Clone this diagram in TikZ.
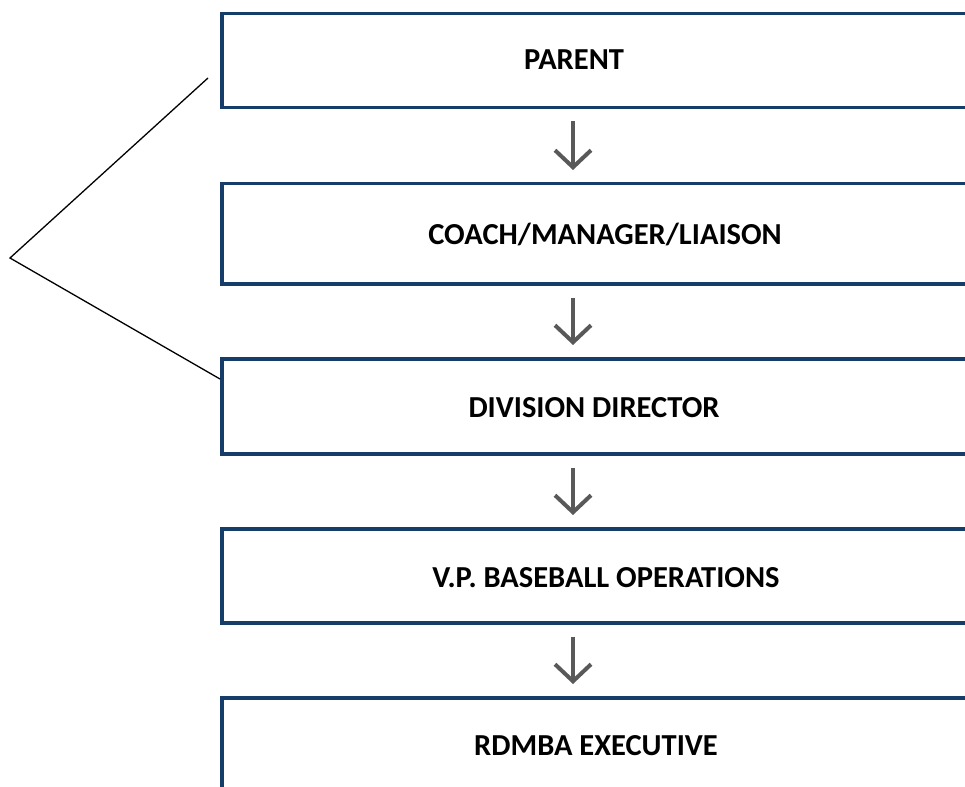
\documentclass[tikz,border=0pt]{standalone}
\usepackage{fontspec}
\setmainfont{Carlito}
\usetikzlibrary{arrows.meta}
\definecolor{boxblue}{RGB}{22,60,105}
\definecolor{arrgray}{RGB}{89,89,89}
\begin{document}
\begin{tikzpicture}[x=1pt,y=-1pt,
  box/.style={draw=boxblue,line width=3.5pt,rectangle,inner sep=0pt,anchor=north west},
  lbl/.style={font=\fontsize{30.5}{36}\selectfont\bfseries,text=black,inner sep=0pt},
  arr/.style={draw=arrgray,line width=4pt,-{Straight Barb[length=17pt,width=36pt,line width=4pt]}},
  brace/.style={draw=black,line width=1.3pt}]
\useasboundingbox (0,0) rectangle (965,786);
\node[box,minimum width=800pt,minimum height=94pt] (b1) at (220,12) {};
\node[box,minimum width=800pt,minimum height=100pt] (b2) at (220,182) {};
\node[box,minimum width=800pt,minimum height=95pt] (b3) at (220,357) {};
\node[box,minimum width=800pt,minimum height=94pt] (b4) at (220,527) {};
\node[box,minimum width=800pt,minimum height=120pt] (b5) at (220,696) {};
\node[lbl] (t1) at (574,60) {PARENT};
\node[lbl] (t2) at (605,234) {COACH/MANAGER/LIAISON};
\node[lbl] (t3) at (594,408) {DIVISION DIRECTOR};
\node[lbl] (t4) at (606,578) {V.P. BASEBALL OPERATIONS};
\node[lbl] (t5) at (596,746) {RDMBA EXECUTIVE};
\coordinate (ax) at (573,0);
\draw[arr] ([yshift=-12pt]b1.south -| ax) -- ([yshift=12pt]b2.north -| ax);
\draw[arr] ([yshift=-12pt]b2.south -| ax) -- ([yshift=12pt]b3.north -| ax);
\draw[arr] ([yshift=-12pt]b3.south -| ax) -- ([yshift=12pt]b4.north -| ax);
\draw[arr] ([yshift=-12pt]b4.south -| ax) -- ([yshift=12pt]b5.north -| ax);
\coordinate (v) at (10,258);
\coordinate (p1) at (208,78);
\coordinate (p3) at (220,379);
\draw[brace] (p1) -- (v) -- (p3);
\end{tikzpicture}
\end{document}
